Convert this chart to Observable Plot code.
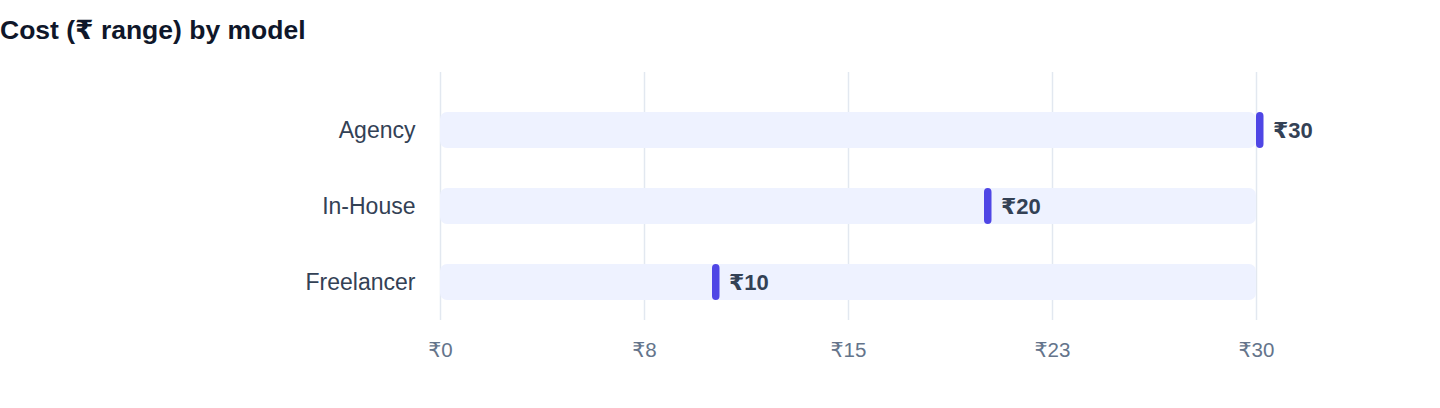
<!DOCTYPE html>
<html>
<head>
<meta charset="utf-8">
<script src="https://cdn.jsdelivr.net/npm/d3@7"></script>
<script src="https://cdn.jsdelivr.net/npm/@observablehq/plot@0.6"></script>
<style>
  html, body { margin: 0; padding: 0; background: #ffffff; }
  body { width: 1440px; height: 408px; overflow: hidden; font-family: Helvetica, Arial, "Liberation Sans", "DejaVu Sans", sans-serif; }
  #title { box-sizing: border-box; height: 60px; padding-top: 17px; padding-left: 0px; font-size: 26.5px; line-height: 26px; font-weight: bold; color: #0f172a; }
  #chart svg { display: block; }
</style>
</head>
<body>
<div id="title">Cost (₹ range) by model</div>
<div id="chart"></div>
<script>
const models = ["Agency", "In-House", "Freelancer"];
const costs = [30, 20, 10];
const maxCost = 30;
const tickValues = [0, 7.5, 15, 22.5, 30];

const data = models.map((m, i) => ({model: m, cost: costs[i]}));
const fmt = d => "₹" + Math.round(d);

const chart = Plot.plot({
  width: 1440,
  height: 348,
  marginTop: 12,
  marginBottom: 88,
  marginLeft: 440,
  marginRight: 184,
  style: {fontFamily: "Helvetica, Arial, 'Liberation Sans', 'DejaVu Sans', sans-serif", background: "transparent", overflow: "visible"},
  x: {domain: [0, maxCost], label: null},
  y: {domain: models, range: [32, 260], paddingInner: 40 / 76, paddingOuter: 20 / 76, label: null},
  marks: [
    Plot.gridX(tickValues, {stroke: "#e2e8f0", strokeOpacity: 1, strokeWidth: 1.5}),
    Plot.barX(data, {y: "model", x1: 0, x2: maxCost, fill: "#eef2ff", rx: 7}),
    Plot.barX(data, {y: "model", x1: "cost", x2: "cost", insetRight: -7.5, fill: "#4f46e5", rx: 3.75, ry: 4}),
    Plot.text(data, {y: "model", x: "cost", text: d => "₹" + d.cost, dx: 16.5, textAnchor: "start", fontSize: 22, fontWeight: "bold", fill: "#334155"}),
    Plot.axisX(tickValues, {tickFormat: fmt, tickSize: 0, tickPadding: 22, fontSize: 20.5, fill: "#64748b", label: null}),
    Plot.axisY({tickSize: 0, tickPadding: 25, fontSize: 23, fill: "#334155", label: null})
  ]
});
document.getElementById("chart").appendChild(chart);
</script>
</body>
</html>
